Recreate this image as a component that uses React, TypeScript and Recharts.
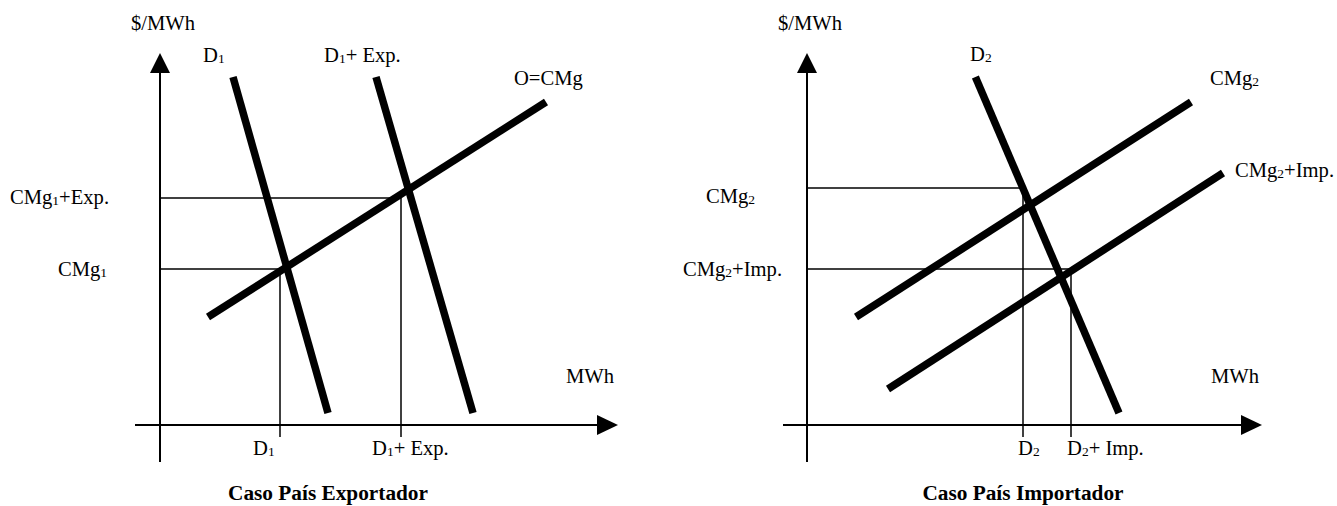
import {
	ComposedChart,
	Line,
	ReferenceLine,
	Scatter,
	XAxis,
	YAxis,
} from "recharts";

// ---- Caso País Exportador ----
const D1 = [
	{ x: 18.25, y: 87 },
	{ x: 42, y: 3 },
];
const D1_EXP = [
	{ x: 54, y: 87 },
	{ x: 78.25, y: 3 },
];
const O_CMG = [
	{ x: 12, y: 27 },
	{ x: 96.5, y: 80.75 },
];
// equilibrium guide points (quantity, price)
const EXP_GUIDES = [
	{ q: 30, p: 39 },
	{ q: 60.25, p: 56.75 },
];

// ---- Caso País Importador ----
const D2 = [
	{ x: 42.1, y: 87 },
	{ x: 78, y: 3 },
];
const CMG2 = [
	{ x: 12.25, y: 27 },
	{ x: 96, y: 80.75 },
];
const CMG2_IMP = [
	{ x: 20.25, y: 9 },
	{ x: 104, y: 63 },
];
const IMP_GUIDES = [
	{ q: 54, p: 59.25 },
	{ q: 66, p: 39 },
];

// labels: main text, subscript, rest
const EXP_LABELS = [
	{ x: -7.25, y: 100.5, t: "$/MWh" },
	{ x: 10.75, y: 92.5, t: "D", s: "1" },
	{ x: 41, y: 92.5, t: "D", s: "1", r: "+ Exp." },
	{ x: 88.5, y: 86.75, t: "O=CMg" },
	{ x: 101.5, y: 12.25, t: "MWh" },
	{ x: -37.5, y: 57, t: "CMg", s: "1", r: "+Exp." },
	{ x: -25.5, y: 39, t: "CMg", s: "1" },
	{ x: 23.25, y: -5.75, t: "D", s: "1" },
	{ x: 53, y: -5.75, t: "D", s: "1", r: "+ Exp." },
	{ x: 42, y: -17, t: "Caso País Exportador", title: true },
];
const IMP_LABELS = [
	{ x: -7.25, y: 100.5, t: "$/MWh" },
	{ x: 40.75, y: 92.75, t: "D", s: "2" },
	{ x: 100.75, y: 86.75, t: "CMg", s: "2" },
	{ x: 107, y: 63.75, t: "CMg", s: "2", r: "+Imp." },
	{ x: -25.25, y: 57.25, t: "CMg", s: "2" },
	{ x: -31, y: 39, t: "CMg", s: "2", r: "+Imp." },
	{ x: 101, y: 12.25, t: "MWh" },
	{ x: 52.75, y: -5.75, t: "D", s: "2" },
	{ x: 65, y: -5.75, t: "D", s: "2", r: "+ Imp." },
	{ x: 54, y: -17, t: "Caso País Importador", title: true },
];

const FONT = "'Liberation Serif', 'Times New Roman', serif";

const TextMark = (props: any) => {
	const { cx, cy, payload } = props;
	if (cx == null || cy == null) return null;
	return (
		<text
			x={cx}
			y={cy + 7}
			fontFamily={FONT}
			fontSize={payload.title ? 21.3 : 20.6}
			fontWeight={payload.title ? "bold" : "normal"}
			textAnchor={payload.title ? "middle" : "start"}
			fill="#000"
		>
			{payload.t}
			{payload.s && (
				<tspan fontSize={13.5} dy={1}>
					{payload.s}
				</tspan>
			)}
			{payload.r && <tspan dy={payload.s ? -1 : 0}>{payload.r}</tspan>}
		</text>
	);
};

const UpArrow = (props: any) => {
	const { cx, cy } = props;
	return (
		<polygon
			points={`${cx},${cy} ${cx - 10},${cy + 20} ${cx + 10},${cy + 20}`}
			fill="#000"
		/>
	);
};

const RightArrow = (props: any) => {
	const { cx, cy } = props;
	return (
		<polygon
			points={`${cx},${cy} ${cx - 21},${cy - 10} ${cx - 21},${cy + 10}`}
			fill="#000"
		/>
	);
};

interface PanelProps {
	width: number;
	xDomain: [number, number];
	curves: { x: number; y: number }[][];
	guides: { q: number; p: number }[];
	labels: any[];
	xStart: number;
	xTip: number;
}

function Panel({ width, xDomain, curves, guides, labels, xStart, xTip }: PanelProps) {
	return (
		<ComposedChart
			width={width}
			height={506}
			margin={{ top: 0, right: 0, bottom: 0, left: 0 }}
		>
			<XAxis
				type="number"
				dataKey="x"
				domain={xDomain}
				allowDataOverflow
				hide
			/>
			<YAxis
				type="number"
				dataKey="y"
				domain={[-20.25, 106.25]}
				allowDataOverflow
				hide
			/>

			{/* axes */}
			<ReferenceLine
				segment={[
					{ x: 0, y: -9.25 },
					{ x: 0, y: 88.5 },
				]}
				stroke="#000"
				strokeWidth={2}
			/>
			<ReferenceLine
				segment={[
					{ x: xStart, y: 0 },
					{ x: xTip - 5, y: 0 },
				]}
				stroke="#000"
				strokeWidth={2}
			/>

			{/* guides */}
			{guides.map((g, i) => (
				<ReferenceLine
					key={`h${i}`}
					segment={[
						{ x: 0, y: g.p },
						{ x: g.q, y: g.p },
					]}
					stroke="#000"
					strokeWidth={1.5}
				/>
			))}
			{guides.map((g, i) => (
				<ReferenceLine
					key={`v${i}`}
					segment={[
						{ x: g.q, y: g.p },
						{ x: g.q, y: -3 },
					]}
					stroke="#000"
					strokeWidth={1.5}
				/>
			))}

			{curves.map((c, i) => (
				<Line
					key={i}
					data={c}
					dataKey="y"
					type="linear"
					stroke="#000"
					strokeWidth={7.5}
					dot={false}
					activeDot={false}
					isAnimationActive={false}
				/>
			))}

			<Scatter
				data={[{ x: 0, y: 93 }]}
				dataKey="y"
				shape={UpArrow}
				isAnimationActive={false}
			/>
			<Scatter
				data={[{ x: xTip, y: 0 }]}
				dataKey="y"
				shape={RightArrow}
				isAnimationActive={false}
			/>
			<Scatter
				data={labels}
				dataKey="y"
				shape={TextMark}
				isAnimationActive={false}
			/>
		</ComposedChart>
	);
}

export default function App() {
	return (
		<div
			style={{
				position: "absolute",
				left: 0,
				top: 0,
				width: 1337,
				height: 506,
				background: "#fff",
				display: "flex",
			}}
		>
			<Panel
				width={668}
				xDomain={[-40, 127]}
				curves={[D1, D1_EXP, O_CMG]}
				guides={EXP_GUIDES}
				labels={EXP_LABELS}
				xStart={-6.25}
				xTip={114.5}
			/>
			<Panel
				width={669}
				xDomain={[-34.75, 132.5]}
				curves={[D2, CMG2, CMG2_IMP]}
				guides={IMP_GUIDES}
				labels={IMP_LABELS}
				xStart={-6}
				xTip={113.75}
			/>
		</div>
	);
}
